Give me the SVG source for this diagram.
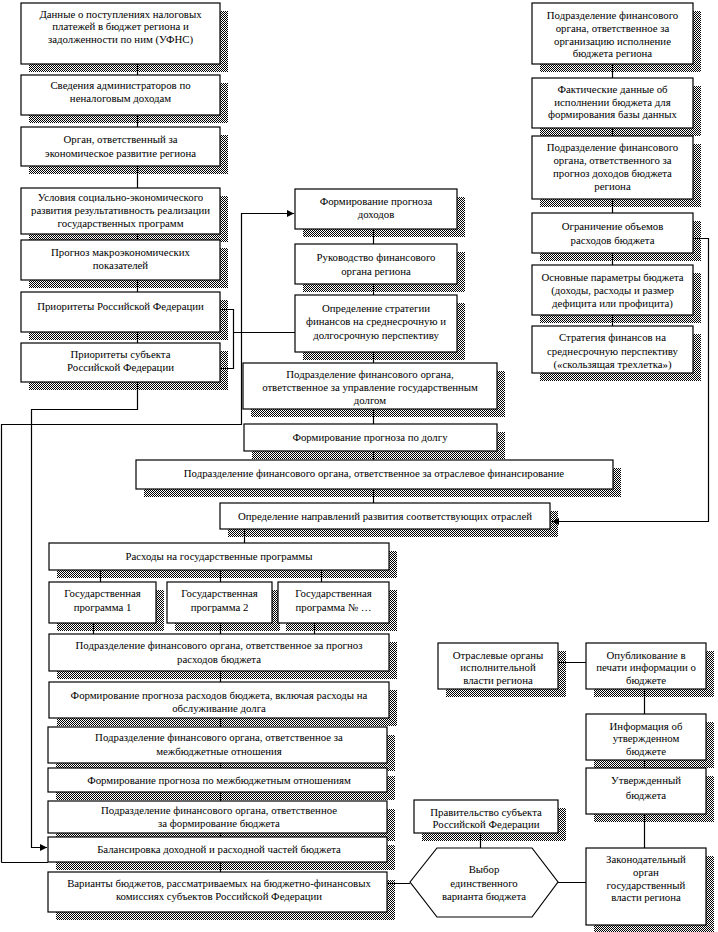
<svg xmlns="http://www.w3.org/2000/svg" width="718" height="932" viewBox="0 0 718 932">
<defs>
<pattern id="dots" width="2" height="2" patternUnits="userSpaceOnUse"><rect width="2" height="2" fill="#fff"/><rect width="1" height="1" fill="#000"/><rect x="1" y="1" width="1" height="1" fill="#000"/></pattern>
<marker id="arr" viewBox="0 0 10 10" refX="10" refY="5" markerWidth="8" markerHeight="7" orient="auto" markerUnits="userSpaceOnUse"><path d="M0,0 L10,5 L0,10 z" fill="#000"/></marker>
<style>
.box{fill:#fff;stroke:#000;stroke-width:1.2}
.sh{fill:url(#dots)}
text{font-family:"Liberation Serif","Times New Roman",serif;font-size:10.8px;text-anchor:middle;fill:#000}
.ln{fill:none;stroke:#000;stroke-width:1.2}
</style>
</defs>
<rect width="718" height="932" fill="#fff"/>

<g id="n1"><rect class="sh" x="29" y="11" width="199" height="61"/><rect class="box" x="21" y="3" width="199" height="61"/><text x="120.5" y="18">Данные о поступлениях налоговых</text><text x="120.5" y="30">платежей в бюджет региона и</text><text x="120.5" y="43">задолженности по ним (УФНС)</text></g>
<g id="n2"><rect class="sh" x="29" y="83" width="199" height="40"/><rect class="box" x="21" y="75" width="199" height="40"/><text x="120.5" y="89">Сведения администраторов по</text><text x="120.5" y="102">неналоговым доходам</text></g>
<g id="n3"><rect class="sh" x="29" y="135" width="199" height="39"/><rect class="box" x="21" y="127" width="199" height="39"/><text x="120.5" y="143">Орган, ответственный за</text><text x="120.5" y="157">экономическое развитие региона</text></g>
<g id="n4"><rect class="sh" x="29" y="196" width="199" height="46"/><rect class="box" x="21" y="188" width="199" height="46"/><text x="120.5" y="201">Условия социально-экономического</text><text x="120.5" y="214">развития результативность реализации</text><text x="120.5" y="227">государственных программ</text></g>
<g id="n5"><rect class="sh" x="29" y="248" width="199" height="40"/><rect class="box" x="21" y="240" width="199" height="40"/><text x="120.5" y="256">Прогноз макроэкономических</text><text x="120.5" y="269">показателей</text></g>
<g id="n6"><rect class="sh" x="29" y="300" width="199" height="40"/><rect class="box" x="21" y="292" width="199" height="40"/><text x="120.5" y="310">Приоритеты Российской Федерации</text></g>
<g id="n7"><rect class="sh" x="29" y="351" width="199" height="39"/><rect class="box" x="21" y="343" width="199" height="39"/><text x="120.5" y="358">Приоритеты субъекта</text><text x="120.5" y="371">Российской Федерации</text></g>

<g id="m1"><rect class="sh" x="303" y="197" width="162" height="40"/><rect class="box" x="295" y="189" width="162" height="40"/><text x="376" y="205">Формирование прогноза</text><text x="376" y="218">доходов</text></g>
<g id="m2"><rect class="sh" x="303" y="252" width="162" height="40"/><rect class="box" x="295" y="244" width="162" height="40"/><text x="376" y="261">Руководство финансового</text><text x="376" y="275">органа региона</text></g>
<g id="m3"><rect class="sh" x="303" y="303" width="162" height="57"/><rect class="box" x="295" y="295" width="162" height="57"/><text x="376" y="312">Определение стратегии</text><text x="376" y="325">финансов на среднесрочную и</text><text x="376" y="339">долгосрочную перспективу</text></g>
<g id="m4"><rect class="sh" x="251" y="371" width="254" height="46"/><rect class="box" x="243" y="363" width="254" height="46"/><text x="370" y="378">Подразделение финансового органа,</text><text x="370" y="391">ответственное за управление государственным</text><text x="370" y="404">долгом</text></g>
<g id="m5"><rect class="sh" x="252" y="432" width="253" height="27"/><rect class="box" x="244" y="424" width="253" height="27"/><text x="370" y="441">Формирование прогноза по долгу</text></g>
<g id="m6"><rect class="sh" x="144" y="468" width="477" height="29"/><rect class="box" x="136" y="460" width="477" height="29"/><text x="374" y="477">Подразделение финансового органа, ответственное за отраслевое финансирование</text></g>
<g id="m7"><rect class="sh" x="228" y="511" width="330" height="26"/><rect class="box" x="220" y="503" width="330" height="26"/><text x="385" y="520">Определение направлений развития соответствующих отраслей</text></g>

<g id="r1"><rect class="sh" x="540" y="11" width="161" height="61"/><rect class="box" x="532" y="3" width="161" height="61"/><text x="612.5" y="19">Подразделение финансового</text><text x="612.5" y="32">органа, ответственное за</text><text x="612.5" y="45">организацию исполнение</text><text x="612.5" y="57">бюджета региона</text></g>
<g id="r2"><rect class="sh" x="540" y="86" width="161" height="50"/><rect class="box" x="532" y="78" width="161" height="50"/><text x="612.5" y="93">Фактические данные об</text><text x="612.5" y="106">исполнении бюджета для</text><text x="612.5" y="118">формирования базы данных</text></g>
<g id="r3"><rect class="sh" x="540" y="144" width="161" height="63"/><rect class="box" x="532" y="136" width="161" height="63"/><text x="612.5" y="151">Подразделение финансового</text><text x="612.5" y="164">органа, ответственного за</text><text x="612.5" y="177">прогноз доходов бюджета</text><text x="612.5" y="190">региона</text></g>
<g id="r4"><rect class="sh" x="540" y="221" width="161" height="40"/><rect class="box" x="532" y="213" width="161" height="40"/><text x="612.5" y="230">Ограничение объемов</text><text x="612.5" y="244">расходов бюджета</text></g>
<g id="r5"><rect class="sh" x="540" y="273" width="161" height="50"/><rect class="box" x="532" y="265" width="161" height="50"/><text x="612.5" y="281">Основные параметры бюджета</text><text x="612.5" y="294">(доходы, расходы и размер</text><text x="612.5" y="307">дефицита или профицита)</text></g>
<g id="r6"><rect class="sh" x="540" y="334" width="161" height="47"/><rect class="box" x="532" y="326" width="161" height="47"/><text x="612.5" y="341">Стратегия финансов на</text><text x="612.5" y="355">среднесрочную перспективу</text><text x="612.5" y="368">(«скользящая трехлетка»)</text></g>

<g id="l1"><rect class="sh" x="57" y="551" width="340" height="27"/><rect class="box" x="49" y="543" width="340" height="27"/><text x="219" y="560">Расходы на государственные программы</text></g>
<g id="p1"><rect class="sh" x="57" y="590" width="107" height="41"/><rect class="box" x="49" y="582" width="107" height="41"/><text x="102.5" y="597">Государственная</text><text x="102.5" y="611">программа 1</text></g>
<g id="p2"><rect class="sh" x="175" y="590" width="105" height="41"/><rect class="box" x="167" y="582" width="105" height="41"/><text x="219.5" y="597">Государственная</text><text x="219.5" y="611">программа 2</text></g>
<g id="p3"><rect class="sh" x="286" y="590" width="111" height="41"/><rect class="box" x="278" y="582" width="111" height="41"/><text x="333.5" y="597">Государственная</text><text x="333.5" y="611">программа № …</text></g>
<g id="l2"><rect class="sh" x="57" y="642" width="340" height="37"/><rect class="box" x="49" y="634" width="340" height="37"/><text x="219" y="649">Подразделение финансового органа, ответственное за прогноз</text><text x="219" y="663">расходов бюджета</text></g>
<g id="l3"><rect class="sh" x="57" y="690" width="340" height="36"/><rect class="box" x="49" y="682" width="340" height="36"/><text x="219" y="699">Формирование прогноза расходов бюджета, включая расходы на</text><text x="219" y="712">обслуживание долга</text></g>
<g id="l4"><rect class="sh" x="56" y="735" width="339" height="36"/><rect class="box" x="48" y="727" width="339" height="36"/><text x="219" y="741">Подразделение финансового органа, ответственное за</text><text x="219" y="755">межбюджетные отношения</text></g>
<g id="l5"><rect class="sh" x="56" y="776" width="339" height="24"/><rect class="box" x="48" y="768" width="339" height="24"/><text x="219" y="784">Формирование прогноза по межбюджетным отношениям</text></g>
<g id="l6"><rect class="sh" x="56" y="809" width="339" height="32"/><rect class="box" x="48" y="801" width="339" height="32"/><text x="219" y="814">Подразделение финансового органа, ответственное</text><text x="219" y="827">за формирование бюджета</text></g>
<g id="l7"><rect class="sh" x="56" y="845" width="339" height="25"/><rect class="box" x="48" y="837" width="339" height="25"/><text x="219" y="853">Балансировка доходной и расходной частей бюджета</text></g>
<g id="l8"><rect class="sh" x="56" y="880" width="339" height="40"/><rect class="box" x="48" y="872" width="339" height="40"/><text x="219" y="887">Варианты бюджетов, рассматриваемых на бюджетно-финансовых</text><text x="219" y="900">комиссиях субъектов Российской Федерации</text></g>

<g id="o1"><rect class="sh" x="446" y="651" width="120" height="46"/><rect class="box" x="438" y="643" width="120" height="46"/><text x="498" y="659">Отраслевые органы</text><text x="498" y="671">исполнительной</text><text x="498" y="684">власти региона</text></g>
<g id="o2"><rect class="sh" x="594" y="651" width="120" height="46"/><rect class="box" x="586" y="643" width="120" height="46"/><text x="646" y="659">Опубликование в</text><text x="646" y="671">печати информации о</text><text x="646" y="684">бюджете</text></g>
<g id="o3"><rect class="sh" x="594" y="722" width="120" height="46"/><rect class="box" x="586" y="714" width="120" height="46"/><text x="646" y="730">Информация об</text><text x="646" y="742">утвержденном</text><text x="646" y="755">бюджете</text></g>
<g id="o4"><rect class="sh" x="594" y="776" width="120" height="46"/><rect class="box" x="586" y="768" width="120" height="46"/><text x="646" y="784">Утвержденный</text><text x="646" y="799">бюджета</text></g>
<g id="o5"><rect class="sh" x="594" y="856" width="120" height="77"/><rect class="box" x="586" y="848" width="120" height="77"/><text x="646" y="863">Законодательный</text><text x="646" y="876">орган</text><text x="646" y="889">государственный</text><text x="646" y="901">власти региона</text></g>
<g id="g1"><rect class="sh" x="422" y="808" width="144" height="33"/><rect class="box" x="414" y="800" width="144" height="33"/><text x="486" y="816">Правительство субъекта</text><text x="486" y="828">Российской Федерации</text></g>
<g id="hex"><polygon class="box" points="410,882 437,848 532,848 558,882 532,917 437,917"/><text x="484" y="873">Выбор</text><text x="484" y="887">единственного</text><text x="484" y="900">варианта бюджета</text></g>

<g id="connectors">
<path class="ln" d="M137.5,64V75 M137.5,115V127 M137.5,166V188 M137.5,234V240 M137.5,280V292 M137.5,332V343"/>
<path class="ln" d="M137.5,382V409.5H31.5V847.5H47" marker-end="url(#arr)"/>
<path class="ln" d="M1.5,862.5V424.5H241.5V213.5H294" marker-end="url(#arr)"/>
<path class="ln" d="M220,309.5H233.5V368.5H220 M233.5,332.5H295"/>
<path class="ln" d="M373.5,229V244 M373.5,284V295 M373.5,352V363 M373.5,409V424 M373.5,451V460 M373.5,489V503"/>
<path class="ln" d="M244.5,529V543"/>
<path class="ln" d="M612.5,64V78 M612.5,128V136 M612.5,199V213 M612.5,253V265 M612.5,315V326"/>
<path class="ln" d="M693,238.5H708.5V521.5H552" marker-end="url(#arr)"/>
<path class="ln" d="M1.5,862.5H48"/>
<path class="ln" d="M100.5,570V582 M220.5,570V582 M321.5,570V582 M93.5,623V634 M220.5,623V634 M314.5,623V634"/>
<path class="ln" d="M220.5,671V682 M220.5,718V727 M220.5,763V768 M220.5,792V801 M220.5,833V837 M220.5,862V872"/>
<path class="ln" d="M387,883.5H410 M480.5,833V848 M558,882.5H586 M558,662.5H586 M644.5,689V714 M644.5,760V768 M644.5,814V848"/>
</g>
</svg>
